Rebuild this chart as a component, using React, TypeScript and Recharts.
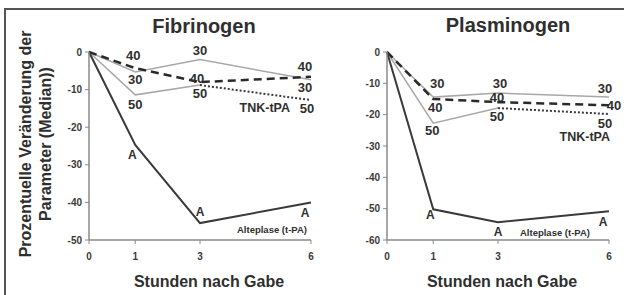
import React from "react";
import { LineChart, Line, XAxis, YAxis, LabelList } from "recharts";

// time axis: the "1 h" point sits a bit right of 1 on the original scale
const hours = [0, 1.25, 3, 6];
const hourLabels = ["0", "1", "3", "6"];

// Fibrinogen, % change (median)
const fibAlteplase = [0, -24.7, -45.5, -40];
const fib30 = [0, -5.3, -2, -7.4];
const fib40 = [0, -4.3, -8, -6.6];
const fib50 = [0, -11.4, -8.8, -12.8];
const fibTicks = [-50, -40, -30, -20, -10, 0];

// Plasminogen, % change (median)
const plasAlteplase = [0, -50.2, -54.3, -50.8];
const plas30 = [0, -14.4, -13.1, -14.4];
const plas40 = [0, -15, -16, -17];
const plas50 = [0, -22.7, -17.9, -19.8];
const plasTicks = [-60, -50, -40, -30, -20, -10, 0];

const buildRows = (alt, s30, s40, s50) =>
  hours.map((h, i) => ({
    h,
    alt: alt[i],
    s30: s30[i],
    s40: s40[i],
    // 50 mg line is drawn solid up to 3 h, dotted after
    s50a: i < 3 ? s50[i] : null,
    s50b: i >= 2 ? s50[i] : null,
  }));

const fibRows = buildRows(fibAlteplase, fib30, fib40, fib50);
const plasRows = buildRows(plasAlteplase, plas30, plas40, plas50);

const FONT = "'Liberation Sans', Arial, sans-serif";
const INK = "#2f2f2f";

// spec: index -> list of texts drawn relative to that point
const makeLabel = (spec) => (props: any) => {
  const { x, y, index } = props;
  const items = spec[index];
  if (!items || x == null || y == null) return null;
  return (
    <g>
      {items.map((it, k) => (
        <text
          key={k}
          x={x + it.dx}
          y={y + it.dy}
          textAnchor={it.anchor || "middle"}
          dominantBaseline="central"
          fontFamily={FONT}
          fontWeight="bold"
          fontSize={it.size || 13}
          fill={INK}
        >
          {it.text}
        </text>
      ))}
    </g>
  );
};

const fibLabels = {
  s40: { 1: [{ text: "40", dx: -2, dy: -13 }], 2: [{ text: "40", dx: -3, dy: -4 }], 3: [{ text: "40", dx: -6, dy: -10 }] },
  s30: { 1: [{ text: "30", dx: 0, dy: 8 }], 2: [{ text: "30", dx: 0, dy: -9 }], 3: [{ text: "30", dx: -6, dy: 8 }] },
  s50a: { 1: [{ text: "50", dx: 0, dy: 10 }], 2: [{ text: "50", dx: 0, dy: 8 }] },
  s50b: {
    3: [
      { text: "50", dx: -4, dy: 8 },
      { text: "TNK-tPA", dx: -21, dy: 8, size: 12.5, anchor: "end" },
    ],
  },
  alt: {
    1: [{ text: "A", dx: -3, dy: 10, size: 12 }],
    2: [{ text: "A", dx: 0, dy: -11, size: 12 }],
    3: [
      { text: "A", dx: -6, dy: 11, size: 12 },
      { text: "Alteplase (t-PA)", dx: -4, dy: 27, size: 9.5, anchor: "end" },
    ],
  },
};

const plasLabels = {
  s30: { 1: [{ text: "30", dx: 4, dy: -14 }], 2: [{ text: "30", dx: 2, dy: -10 }], 3: [{ text: "30", dx: -4, dy: -9 }] },
  s40: { 1: [{ text: "40", dx: 2, dy: 8 }], 2: [{ text: "40", dx: -1, dy: -5 }], 3: [{ text: "40", dx: 5, dy: 0 }] },
  s50a: { 1: [{ text: "50", dx: -1, dy: 7 }], 2: [{ text: "50", dx: -1, dy: 8 }] },
  s50b: {
    3: [
      { text: "50", dx: -4, dy: 9 },
      { text: "TNK-tPA", dx: 1, dy: 23, size: 12.5, anchor: "end" },
    ],
  },
  alt: {
    1: [{ text: "A", dx: -3, dy: 6, size: 12 }],
    2: [{ text: "A", dx: 0, dy: 10, size: 12 }],
    3: [
      { text: "A", dx: -6, dy: 11, size: 12 },
      { text: "Alteplase (t-PA)", dx: -19, dy: 21, size: 9.5, anchor: "end" },
    ],
  },
};

const tickStyle = { fontSize: 10, fontWeight: "bold", fill: "#3a3a3a", fontFamily: FONT };
const axisLine = { stroke: "#8a8a8a", strokeWidth: 1.5 };

const Panel = ({ rows, ticks, labels, width, margin }: any) => (
  <LineChart width={width} height={295} data={rows} margin={margin}>
    <XAxis
      type="number"
      dataKey="h"
      domain={[0, 6]}
      ticks={hours}
      tickFormatter={(v) => hourLabels[hours.indexOf(v)]}
      height={25}
      tickSize={4}
      tickMargin={9}
      axisLine={axisLine}
      tickLine={{ stroke: "#8a8a8a" }}
      tick={tickStyle}
    />
    <YAxis
      type="number"
      domain={[ticks[0], 0]}
      ticks={ticks}
      width={30}
      tickSize={4}
      tickMargin={3}
      axisLine={axisLine}
      tickLine={{ stroke: "#8a8a8a" }}
      tick={tickStyle}
    />
    <Line dataKey="s30" stroke="#a8a8a8" strokeWidth={1.5} dot={false} isAnimationActive={false}>
      <LabelList dataKey="s30" content={makeLabel(labels.s30)} />
    </Line>
    <Line dataKey="s50a" stroke="#a8a8a8" strokeWidth={1.5} dot={false} isAnimationActive={false}>
      <LabelList dataKey="s50a" content={makeLabel(labels.s50a)} />
    </Line>
    <Line dataKey="s50b" stroke="#3a3a3a" strokeWidth={2} strokeDasharray="2 2" dot={false} isAnimationActive={false}>
      <LabelList dataKey="s50b" content={makeLabel(labels.s50b)} />
    </Line>
    <Line dataKey="s40" stroke="#2a2a2a" strokeWidth={2.5} strokeDasharray="8 5" dot={false} isAnimationActive={false}>
      <LabelList dataKey="s40" content={makeLabel(labels.s40)} />
    </Line>
    <Line dataKey="alt" stroke="#3a3a3a" strokeWidth={2} dot={false} isAnimationActive={false}>
      <LabelList dataKey="alt" content={makeLabel(labels.alt)} />
    </Line>
  </LineChart>
);

export default function App() {
  const text = { fontFamily: FONT, fontWeight: "bold", fill: INK } as any;
  return (
    <div style={{ position: "absolute", left: 0, top: 0, width: 624, height: 295, background: "#fff", overflow: "hidden" }}>
      <div style={{ position: "absolute", left: 0, top: 0 }}>
        <Panel rows={fibRows} ticks={fibTicks} labels={fibLabels} width={320} margin={{ top: 52, right: 9, left: 59, bottom: 30 }} />
      </div>
      <div style={{ position: "absolute", left: 320, top: 0 }}>
        <Panel rows={plasRows} ticks={plasTicks} labels={plasLabels} width={304} margin={{ top: 52, right: 15, left: 37, bottom: 30 }} />
      </div>
      <svg width={624} height={295} style={{ position: "absolute", left: 0, top: 0, pointerEvents: "none" }}>
        <path d="M5 295 V9 H624" fill="none" stroke="#555" strokeWidth={2} />
        <text x={204} y={33} textAnchor="middle" fontSize={20} {...text}>Fibrinogen</text>
        <text x={508} y={32} textAnchor="middle" fontSize={20} {...text}>Plasminogen</text>
        <text x={209} y={287} textAnchor="middle" fontSize={16} {...text}>Stunden nach Gabe</text>
        <text x={502} y={287} textAnchor="middle" fontSize={16} {...text}>Stunden nach Gabe</text>
        <text x={31} y={144} textAnchor="middle" fontSize={16} transform="rotate(-90 31 144)" {...text}>
          Prozentuelle Veränderung der
        </text>
        <text x={51} y={144} textAnchor="middle" fontSize={16} transform="rotate(-90 51 144)" {...text}>
          Parameter (Median))
        </text>
      </svg>
    </div>
  );
}
